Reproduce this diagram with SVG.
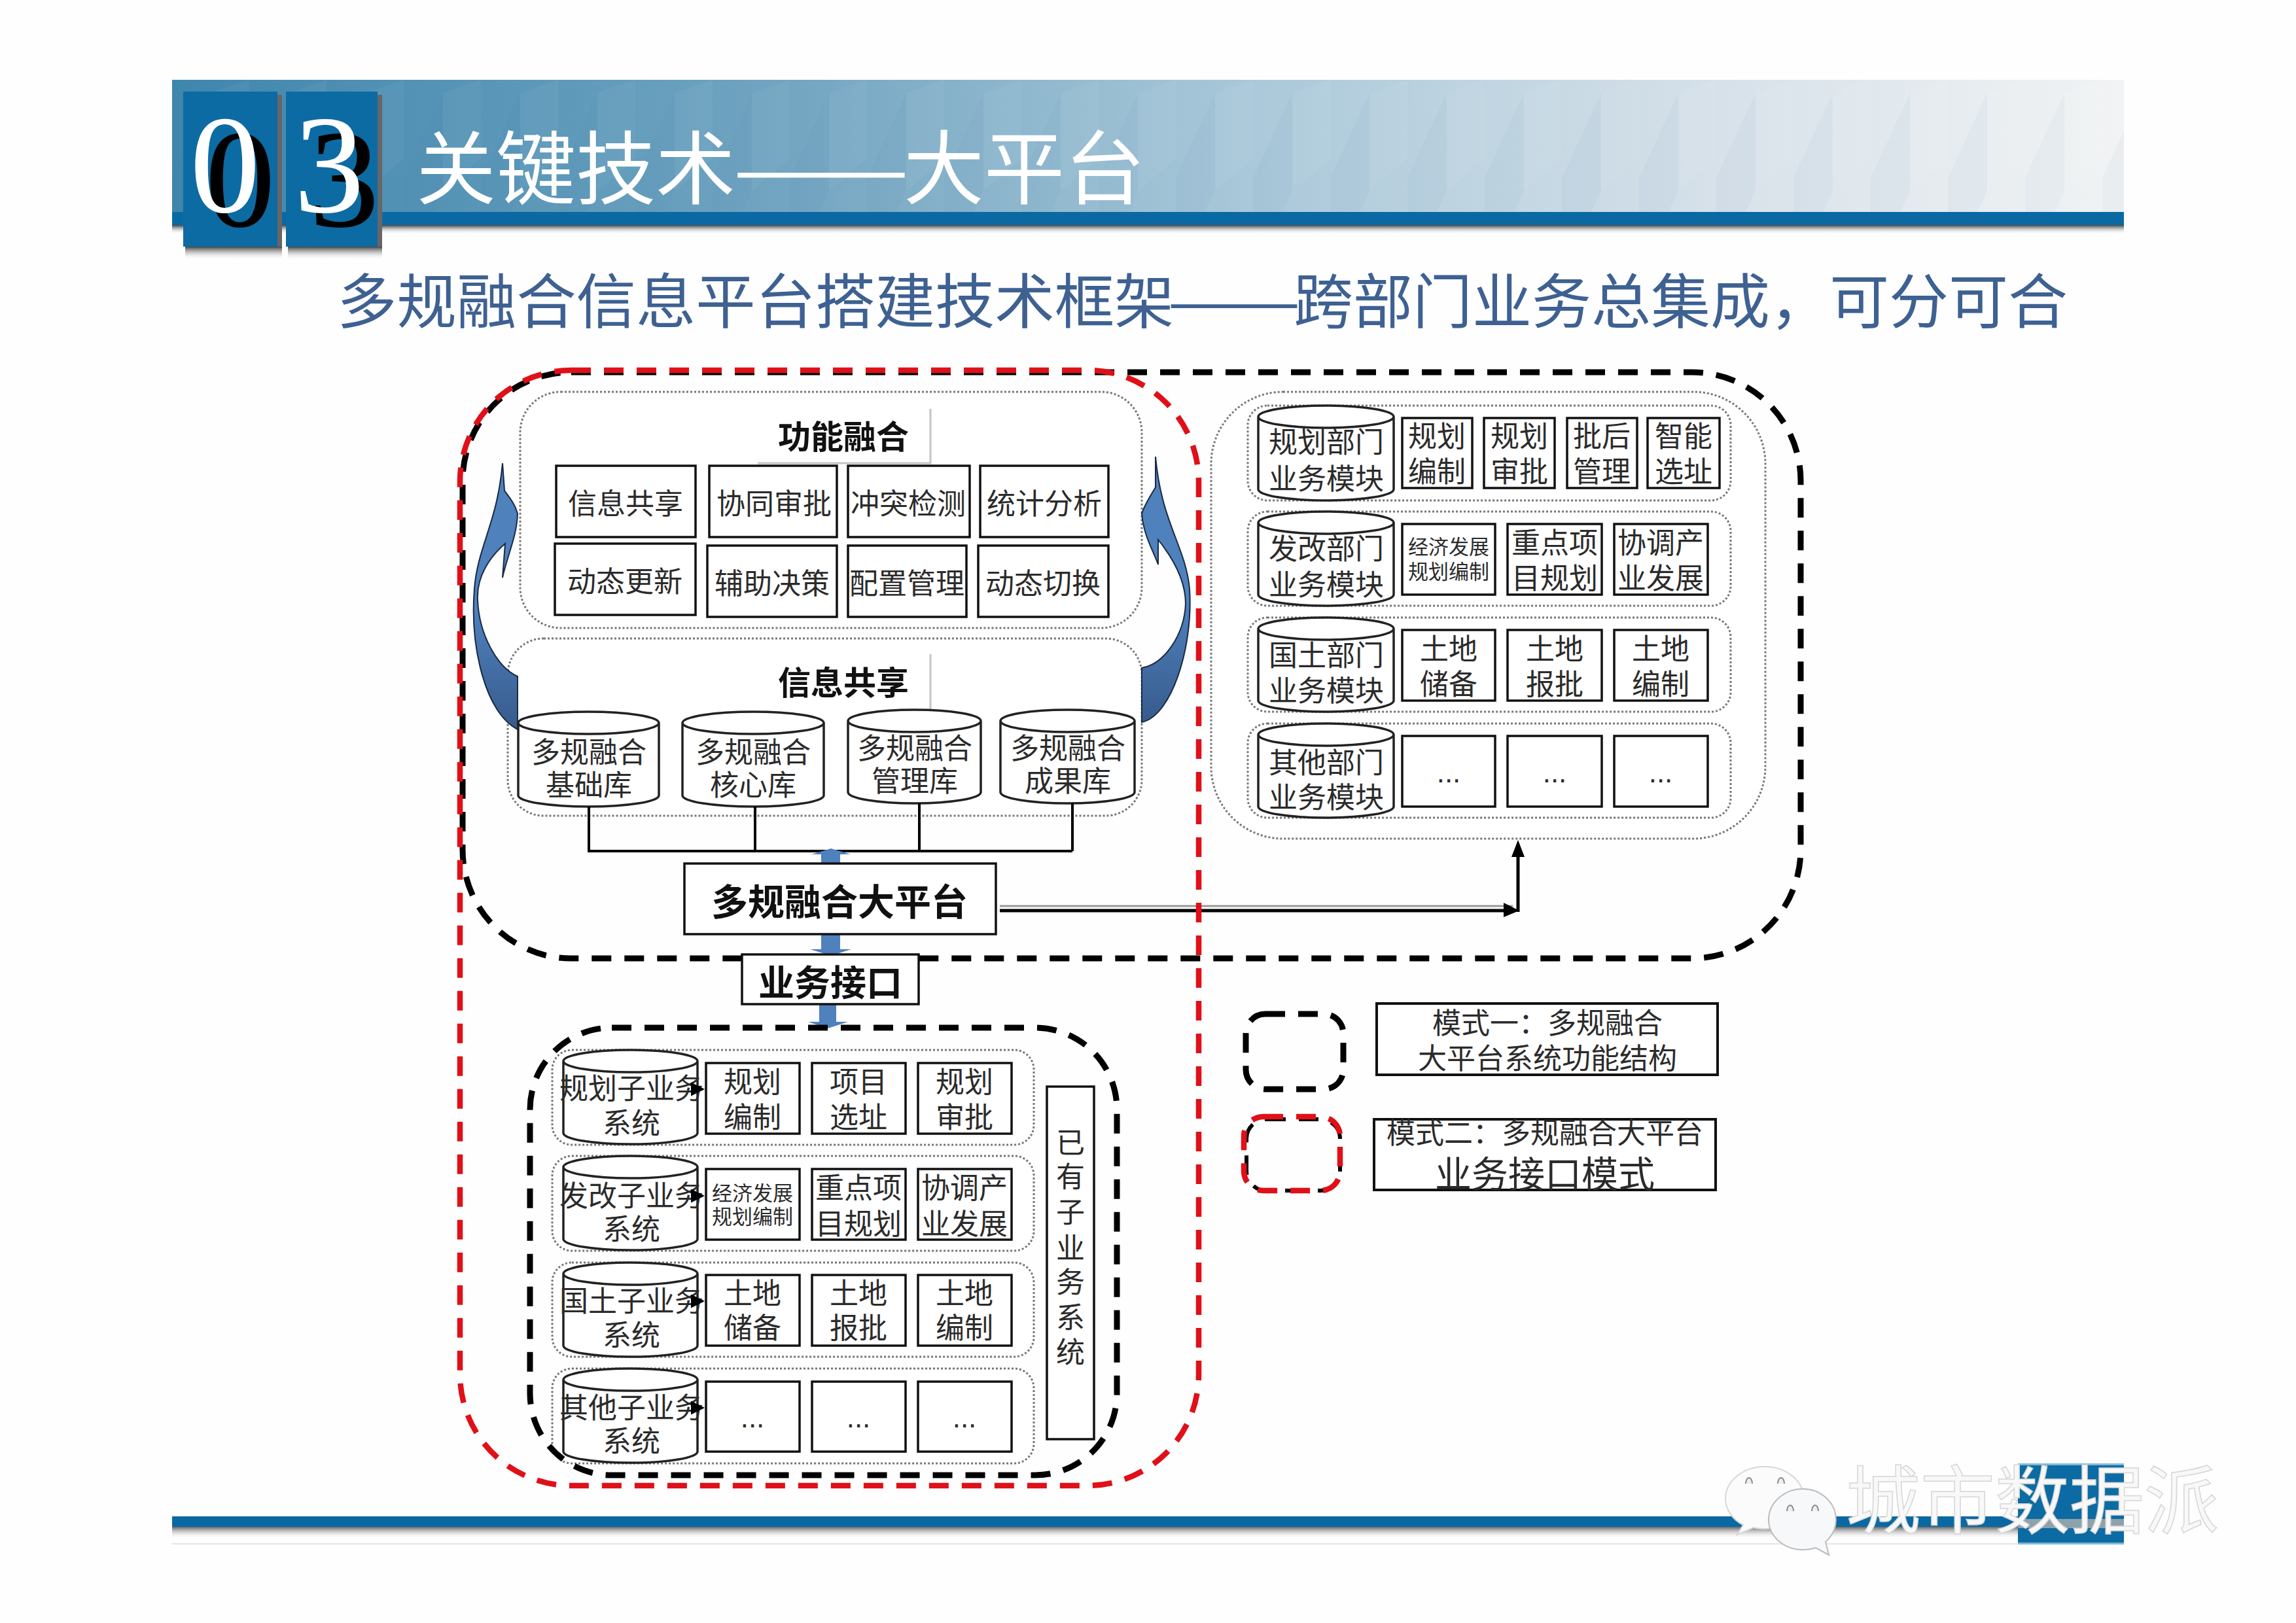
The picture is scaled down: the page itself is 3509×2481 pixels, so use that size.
<svg xmlns="http://www.w3.org/2000/svg" width="3509" height="2481" viewBox="0 0 3509 2481">
<style>
text{font-family:"Noto Sans CJK SC","Liberation Sans",sans-serif;fill:#2b2b2b;text-anchor:middle}
.f44{font-size:44px}.f42{font-size:44px}.f31{font-size:31px}
.b{font-weight:700;fill:#111}
.box{fill:#fff;stroke:#111;stroke-width:3.5}
.cyl{fill:#fff;stroke:#222;stroke-width:3.5}
.dot{fill:#fff;stroke:#777;stroke-width:3;stroke-dasharray:3 3}
.dk{fill:none;stroke:#000;stroke-width:9;stroke-dasharray:30 20}
.rd{fill:none;stroke:#e01018;stroke-width:8.5;stroke-dasharray:30 20}
.ln{fill:none;stroke:#000;stroke-width:4}
.sh{fill:none;stroke:#c4c4c4;stroke-width:3}
.blue{fill:#4f81bd}
.dig{font-family:"Liberation Serif",serif;font-size:215px}
.dots{font-family:"Liberation Sans",sans-serif}
</style>
<defs>
<linearGradient id="ban" x1="0" x2="1" y1="0" y2="0"><stop offset="0" stop-color="#3f86ad"/><stop offset=".3" stop-color="#6fa3c0"/><stop offset=".55" stop-color="#a9c8d9"/><stop offset=".8" stop-color="#d8e2ea"/><stop offset="1" stop-color="#f1f3f4"/></linearGradient>
<linearGradient id="shd" x1="0" x2="0" y1="0" y2="1"><stop offset="0" stop-color="#444"/><stop offset="1" stop-color="#fff" stop-opacity="0"/></linearGradient>
<linearGradient id="arr" x1="0" x2="0" y1="0" y2="1"><stop offset="0" stop-color="#4f81bd"/><stop offset=".55" stop-color="#4f81bd"/><stop offset="1" stop-color="#375b8c"/></linearGradient>
<pattern id="cube" width="118" height="300" patternUnits="userSpaceOnUse" x="263" y="122">
<polygon points="0,150 60,20 60,170 0,300" fill="#3d6f8e" opacity=".04"/>
<polygon points="60,20 118,0 118,120 60,170" fill="#fff" opacity=".04"/>
</pattern>
<marker id="ah" markerWidth="7" markerHeight="7" refX="6" refY="3.5" orient="auto" markerUnits="strokeWidth"><path d="M0 0L7 3.5L0 7Z" fill="#000"/></marker>
</defs>
<rect width="3509" height="2481" fill="#fefefe"/>

<g id="header">
<rect x="263" y="344" width="2983" height="14" fill="url(#shd)"/>
<rect x="263" y="122" width="2983" height="204" fill="url(#ban)"/>
<rect x="263" y="122" width="2983" height="204" fill="url(#cube)"/>
<rect x="263" y="324" width="2983" height="20" fill="#0a69a3"/>
<rect x="283" y="377" width="148" height="20" fill="url(#shd)"/>
<rect x="440" y="377" width="144" height="20" fill="url(#shd)"/>
<rect x="424" y="145" width="7" height="232" fill="#666"/>
<rect x="577" y="145" width="7" height="232" fill="#666"/>
<rect x="280" y="140" width="144" height="237" fill="#0c6ba3"/>
<rect x="437" y="140" width="140" height="237" fill="#0c6ba3"/>
<text class="dig" x="367" y="346" style="fill:#000">0</text>
<text class="dig" x="526" y="346" style="fill:#000">3</text>
<text class="dig" x="344" y="324" style="fill:#fff">0</text>
<text class="dig" x="503" y="324" style="fill:#fff">3</text>
<text x="636" y="302" style="text-anchor:start;font-size:122px;fill:#fff">关键技术</text>
<text x="1120" y="302" textLength="270" lengthAdjust="spacingAndGlyphs" style="text-anchor:start;font-size:122px;fill:#fff">——</text>
<text x="1381" y="302" style="text-anchor:start;font-size:123px;fill:#fff">大平台</text>
</g>
<g id="subtitle" style="font-size:91.4px">
<text x="515" y="494" style="text-anchor:start;fill:#3e6192">多规融合信息平台搭建技术框架</text>
<text x="1784" y="494" textLength="204" lengthAdjust="spacingAndGlyphs" style="text-anchor:start;fill:#3e6192">——</text>
<text x="1977" y="494" style="text-anchor:start;font-size:91px;fill:#3e6192">跨部门业务总集成，可分可合</text>
</g>

<g id="panel-func">
<rect class="dot" x="795" y="599" width="950" height="361" rx="62"/>
<path class="sh" d="M1422 625V708H1158"/>
<text class="b" x="1289" y="686" style="font-size:50px">功能融合</text>
</g>
<g id="panel-share">
<rect class="dot" x="776" y="976" width="969" height="271" rx="55"/>
<path class="sh" d="M1422 1000V1085"/>
<text class="b" x="1289" y="1062" style="font-size:50px">信息共享</text>
</g>

<g id="func-boxes">
<g id="f1"><rect class="box" x="850" y="712" width="213" height="109"/><text class="f44" x="956" y="786">信息共享</text></g>
<g id="f2"><rect class="box" x="1084" y="712" width="195" height="109"/><text class="f44" x="1183" y="786">协同审批</text></g>
<g id="f3"><rect class="box" x="1296" y="712" width="186" height="109"/><text class="f44" x="1388" y="786">冲突检测</text></g>
<g id="f4"><rect class="box" x="1498" y="712" width="196" height="109"/><text class="f44" x="1596" y="786">统计分析</text></g>
<g id="f5"><rect class="box" x="848" y="831" width="215" height="109"/><text class="f44" x="955" y="905">动态更新</text></g>
<g id="f6"><rect class="box" x="1081" y="834" width="198" height="109"/><text class="f44" x="1180" y="908">辅助决策</text></g>
<g id="f7"><rect class="box" x="1296" y="834" width="181" height="109"/><text class="f44" x="1386" y="908">配置管理</text></g>
<g id="f8"><rect class="box" x="1495" y="834" width="199" height="109"/><text class="f44" x="1594" y="908">动态切换</text></g>
</g>

<g id="curved-arrows">
<path id="arrow-left" fill="url(#arr)" stroke="#1a2a44" stroke-width="2" d="M791 1115C742 1090 718 990 725 900C730 835 760 800 768 708L771 750C778 760 787 770 791 785C790 820 775 850 768 883L772 831C750 850 728 880 730 917C732 970 760 1020 791 1034Z"/>
<path id="arrow-right" fill="url(#arr)" stroke="#1a2a44" stroke-width="2" d="M1745 1104C1790 1095 1824 990 1818 900C1812 835 1775 800 1766 698L1766 745C1760 755 1750 770 1745 785C1748 820 1762 840 1770 863L1770 825C1790 850 1812 885 1812 923C1810 970 1780 1015 1745 1021Z"/>
</g>

<g id="share-dbs">
<g id="db1"><path class="cyl" d="M792 1105A107.500 17 0 0 1 1007 1105V1216A107.500 17 0 0 1 792 1216ZM792 1105A107.500 17 0 0 0 1007 1105"/><text class="f44" x="900" y="1166">多规融合</text><text class="f44" x="900" y="1216">基础库</text></g>
<g id="db2"><path class="cyl" d="M1043 1105A108 17 0 0 1 1259 1105V1216A108 17 0 0 1 1043 1216ZM1043 1105A108 17 0 0 0 1259 1105"/><text class="f44" x="1151" y="1166">多规融合</text><text class="f44" x="1151" y="1216">核心库</text></g>
<g id="db3"><path class="cyl" d="M1296 1102A101.500 17 0 0 1 1499 1102V1211A101.500 17 0 0 1 1296 1211ZM1296 1102A101.500 17 0 0 0 1499 1102"/><text class="f44" x="1398" y="1160">多规融合</text><text class="f44" x="1398" y="1210">管理库</text></g>
<g id="db4"><path class="cyl" d="M1529 1102A102.500 17 0 0 1 1734 1102V1211A102.500 17 0 0 1 1529 1211ZM1529 1102A102.500 17 0 0 0 1734 1102"/><text class="f44" x="1632" y="1160">多规融合</text><text class="f44" x="1632" y="1210">成果库</text></g>
</g>

<g id="modules-panel">
<rect class="dot" x="1851" y="599" width="847" height="683" rx="110"/>
</g>
<g id="row-plan-dept">
<rect class="dot" x="1907" y="620" width="738" height="145" rx="30"/>
<path class="cyl" d="M1923 637A103.500 17 0 0 1 2130 637V748A103.500 17 0 0 1 1923 748ZM1923 637A103.500 17 0 0 0 2130 637"/>
<text class="f44" x="2027" y="692">规划部门</text><text class="f44" x="2027" y="748">业务模块</text>
<rect class="box" x="2143" y="639" width="107" height="107"/><text class="f42" x="2196" y="683">规划</text><text class="f42" x="2196" y="737">编制</text>
<rect class="box" x="2268" y="639" width="108" height="107"/><text class="f42" x="2322" y="683">规划</text><text class="f42" x="2322" y="737">审批</text>
<rect class="box" x="2395" y="639" width="107" height="107"/><text class="f42" x="2448" y="683">批后</text><text class="f42" x="2448" y="737">管理</text>
<rect class="box" x="2518" y="639" width="110" height="107"/><text class="f42" x="2573" y="683">智能</text><text class="f42" x="2573" y="737">选址</text>
</g>
<g id="row-reform-dept">
<rect class="dot" x="1907" y="782" width="738" height="144" rx="30"/>
<path class="cyl" d="M1923 799A103.500 17 0 0 1 2130 799V909A103.500 17 0 0 1 1923 909ZM1923 799A103.500 17 0 0 0 2130 799"/>
<text class="f44" x="2027" y="855">发改部门</text><text class="f44" x="2027" y="910">业务模块</text>
<rect class="box" x="2143" y="801" width="142" height="108"/><text class="f31" x="2214" y="847">经济发展</text><text class="f31" x="2214" y="885">规划编制</text>
<rect class="box" x="2304" y="801" width="144" height="108"/><text class="f42" x="2376" y="846">重点项</text><text class="f42" x="2376" y="900">目规划</text>
<rect class="box" x="2467" y="801" width="143" height="108"/><text class="f42" x="2538" y="846">协调产</text><text class="f42" x="2538" y="900">业发展</text>
</g>
<g id="row-land-dept">
<rect class="dot" x="1907" y="944" width="738" height="144" rx="30"/>
<path class="cyl" d="M1923 961A103.500 17 0 0 1 2130 961V1071A103.500 17 0 0 1 1923 1071ZM1923 961A103.500 17 0 0 0 2130 961"/>
<text class="f44" x="2027" y="1018">国土部门</text><text class="f44" x="2027" y="1072">业务模块</text>
<rect class="box" x="2143" y="963" width="142" height="108"/><text class="f42" x="2214" y="1008">土地</text><text class="f42" x="2214" y="1062">储备</text>
<rect class="box" x="2304" y="963" width="144" height="108"/><text class="f42" x="2376" y="1008">土地</text><text class="f42" x="2376" y="1062">报批</text>
<rect class="box" x="2467" y="963" width="143" height="108"/><text class="f42" x="2538" y="1008">土地</text><text class="f42" x="2538" y="1062">编制</text>
</g>
<g id="row-other-dept">
<rect class="dot" x="1907" y="1106" width="738" height="144" rx="30"/>
<path class="cyl" d="M1923 1123A103.500 17 0 0 1 2130 1123V1233A103.500 17 0 0 1 1923 1233ZM1923 1123A103.500 17 0 0 0 2130 1123"/>
<text class="f44" x="2027" y="1182">其他部门</text><text class="f44" x="2027" y="1235">业务模块</text>
<rect class="box" x="2143" y="1125" width="142" height="108"/><text class="f44 dots" x="2214" y="1196">...</text>
<rect class="box" x="2304" y="1125" width="144" height="108"/><text class="f44 dots" x="2376" y="1196">...</text>
<rect class="box" x="2467" y="1125" width="143" height="108"/><text class="f44 dots" x="2538" y="1196">...</text>
</g>

<g id="row-plan-sys">
<rect class="dot" x="844" y="1605" width="736" height="145" rx="30"/>
<path class="cyl" d="M861 1622A102.500 17 0 0 1 1066 1622V1732A102.500 17 0 0 1 861 1732ZM861 1622A102.500 17 0 0 0 1066 1622"/>
<text class="f44" x="965" y="1680">规划子业务</text><text class="f44" x="965" y="1733">系统</text>
<rect class="box" x="1079" y="1625" width="143" height="108"/><text class="f42" x="1150" y="1670">规划</text><text class="f42" x="1150" y="1724">编制</text>
<rect class="box" x="1241" y="1625" width="143" height="108"/><text class="f42" x="1312" y="1670">项目</text><text class="f42" x="1312" y="1724">选址</text>
<rect class="box" x="1403" y="1625" width="143" height="108"/><text class="f42" x="1474" y="1670">规划</text><text class="f42" x="1474" y="1724">审批</text>
</g>
<g id="row-reform-sys">
<rect class="dot" x="844" y="1767" width="736" height="145" rx="30"/>
<path class="cyl" d="M861 1784A102.500 17 0 0 1 1066 1784V1894A102.500 17 0 0 1 861 1894ZM861 1784A102.500 17 0 0 0 1066 1784"/>
<text class="f44" x="965" y="1844">发改子业务</text><text class="f44" x="965" y="1895">系统</text>
<rect class="box" x="1079" y="1787" width="143" height="108"/><text class="f31" x="1150" y="1835">经济发展</text><text class="f31" x="1150" y="1871">规划编制</text>
<rect class="box" x="1241" y="1787" width="143" height="108"/><text class="f42" x="1312" y="1832">重点项</text><text class="f42" x="1312" y="1887">目规划</text>
<rect class="box" x="1403" y="1787" width="143" height="108"/><text class="f42" x="1474" y="1832">协调产</text><text class="f42" x="1474" y="1887">业发展</text>
</g>
<g id="row-land-sys">
<rect class="dot" x="844" y="1930" width="736" height="144" rx="30"/>
<path class="cyl" d="M861 1947A102.500 17 0 0 1 1066 1947V2057A102.500 17 0 0 1 861 2057ZM861 1947A102.500 17 0 0 0 1066 1947"/>
<text class="f44" x="965" y="2005">国土子业务</text><text class="f44" x="965" y="2057">系统</text>
<rect class="box" x="1079" y="1949" width="143" height="108"/><text class="f42" x="1150" y="1993">土地</text><text class="f42" x="1150" y="2046">储备</text>
<rect class="box" x="1241" y="1949" width="143" height="108"/><text class="f42" x="1312" y="1993">土地</text><text class="f42" x="1312" y="2046">报批</text>
<rect class="box" x="1403" y="1949" width="143" height="108"/><text class="f42" x="1474" y="1993">土地</text><text class="f42" x="1474" y="2046">编制</text>
</g>
<g id="row-other-sys">
<rect class="dot" x="844" y="2092" width="736" height="145" rx="30"/>
<path class="cyl" d="M861 2109A102.500 17 0 0 1 1066 2109V2219A102.500 17 0 0 1 861 2219ZM861 2109A102.500 17 0 0 0 1066 2109"/>
<text class="f44" x="965" y="2168">其他子业务</text><text class="f44" x="965" y="2219">系统</text>
<rect class="box" x="1079" y="2112" width="143" height="107"/><text class="f44 dots" x="1150" y="2182">...</text>
<rect class="box" x="1241" y="2112" width="143" height="107"/><text class="f44 dots" x="1312" y="2182">...</text>
<rect class="box" x="1403" y="2112" width="143" height="107"/><text class="f44 dots" x="1474" y="2182">...</text>
</g>
<g id="existing-systems">
<rect class="box" x="1600" y="1661" width="72" height="539"/>
<text class="f44" x="1636" y="1763">已</text><text class="f44" x="1636" y="1815">有</text><text class="f44" x="1636" y="1869">子</text><text class="f44" x="1636" y="1924">业</text><text class="f44" x="1636" y="1976">务</text><text class="f44" x="1636" y="2030">系</text><text class="f44" x="1636" y="2083">统</text>
</g>

<g id="connectors">
<path class="ln" d="M900 1233V1301H1639M1154 1233V1301M1405 1228V1301M1639 1228V1301"/>
<polygon class="blue" points="1255,1320 1255,1306 1240,1306 1270,1297 1300,1306 1284,1306 1284,1320"/>
<polygon class="blue" points="1255,1428 1284,1428 1284,1451 1301,1451 1270,1461 1238,1451 1255,1451"/>
<polygon class="blue" points="1252,1535 1278,1535 1278,1562 1296,1562 1265,1572 1235,1562 1252,1562"/>
<path d="M1528 1385H2312" fill="none" stroke="#999" stroke-width="3"/>
<path d="M1528 1392H2312" fill="none" stroke="#000" stroke-width="5"/>
<path d="M2298 1380L2322 1392L2298 1402Z" fill="#000"/>
<path d="M2320 1394V1300" fill="none" stroke="#000" stroke-width="5"/>
<path d="M2320 1284L2330 1310L2310 1310Z" fill="#000"/>
<path d="M1058 1665H1074" class="ln" marker-end="url(#ah)" style="stroke-width:3"/>
<path d="M1058 1828H1074" class="ln" marker-end="url(#ah)" style="stroke-width:3"/>
<path d="M1058 1989H1074" class="ln" marker-end="url(#ah)" style="stroke-width:3"/>
<path d="M1058 2152H1074" class="ln" marker-end="url(#ah)" style="stroke-width:3"/>
</g>

<g id="platform"><rect class="box" x="1046" y="1320" width="476" height="108"/><text class="b" x="1283" y="1399" style="font-size:56px">多规融合大平台</text></g>

<g id="mode-frames">
<rect id="frame-lower" class="dk" x="810" y="1571" width="897" height="684" rx="125"/>
<rect id="frame-black" class="dk" x="707" y="569" width="2045" height="896" rx="166"/>
<rect id="frame-red" class="rd" x="703" y="566" width="1129" height="1705" rx="170"/>
</g>

<g id="interface"><rect class="box" x="1134" y="1459" width="270" height="76"/><text class="b" x="1269" y="1522" style="font-size:55px">业务接口</text></g>

<g id="legend-1">
<rect class="dk" x="1904" y="1550" width="149" height="115" rx="30"/>
<rect class="box" x="2104" y="1534" width="521" height="109" style="stroke-width:4"/>
<text class="f44" x="2365" y="1580">模式一：多规融合</text><text class="f44" x="2365" y="1634">大平台系统功能结构</text>
</g>
<g id="legend-2">
<rect x="1905" y="1711" width="143" height="109" rx="30" fill="none" stroke="#000" stroke-width="6" stroke-dasharray="30 20"/>
<rect class="rd" x="1901" y="1707" width="147" height="113" rx="30"/>
<rect class="box" x="2100" y="1711" width="522" height="108" style="stroke-width:4"/>
<text class="f44" x="2361" y="1748">模式二：多规融合大平台</text><text x="2361" y="1815" style="font-size:56px">业务接口模式</text>
</g>

<g id="footer">
<rect x="263" y="2332" width="2821" height="20" fill="url(#shd)"/>
<rect x="263" y="2318" width="2821" height="16" fill="#0a69a3"/>
<rect x="263" y="2359" width="2821" height="2" fill="#e6e6e6"/>
<rect x="3084" y="2237" width="162" height="123" fill="#0c6ba3"/>
<rect x="3084" y="2237" width="162" height="3" fill="#7fb9d8"/>
<rect x="3084" y="2358" width="162" height="3" fill="#7fb9d8"/>
<rect x="3084" y="2322" width="162" height="14" fill="#b9b4ae" opacity=".75"/>
</g>
<g id="watermark">
<path d="M2697 2242C2664 2242 2637 2264 2637 2291C2637 2308 2648 2323 2664 2331L2655 2346L2680 2335C2686 2337 2691 2337 2697 2337C2730 2337 2757 2316 2757 2291C2757 2264 2730 2242 2697 2242Z" fill="#fbfbfb" stroke="#d8d8d8" stroke-width="2"/>
<path d="M2755 2276C2727 2276 2703 2297 2703 2323C2703 2349 2727 2369 2755 2369C2762 2369 2769 2368 2775 2366L2795 2377L2790 2357C2799 2349 2806 2337 2806 2323C2806 2297 2783 2276 2755 2276Z" fill="#f7f8f9" stroke="#bcbcbc" stroke-width="2"/>
<path d="M2668 2268a5 9 0 0 1 10 0M2717 2268a5 9 0 0 1 10 0M2731 2310a5 9 0 0 1 10 0M2769 2310a5 9 0 0 1 10 0" fill="#eee" stroke="#888" stroke-width="2"/>
<text x="2821" y="2335" style="text-anchor:start;font-size:114px;fill:#f8f8f8;stroke:#d6d6d6;stroke-width:1.500">城市数据派</text>
</g>
</svg>
